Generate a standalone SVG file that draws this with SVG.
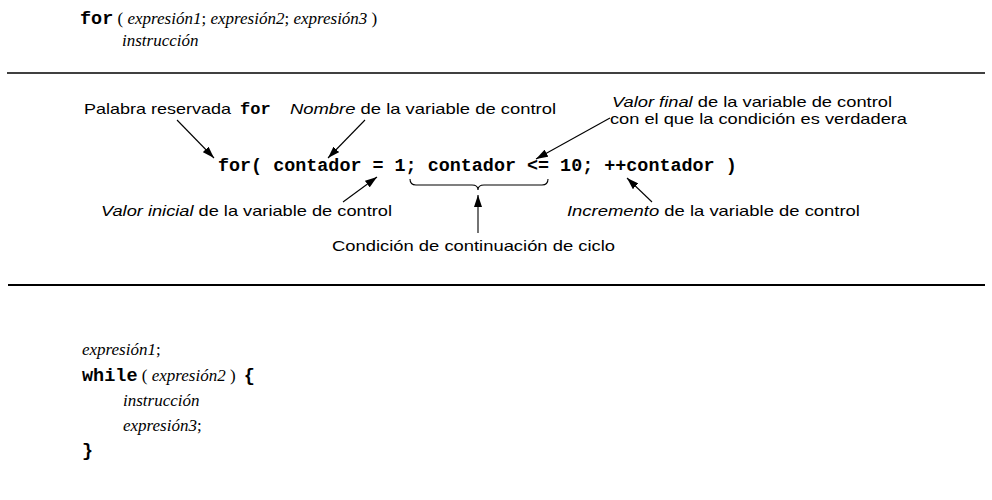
<svg xmlns="http://www.w3.org/2000/svg" width="992" height="500" viewBox="0 0 992 500">
<defs>
<style>
.mono{font-family:"Liberation Mono","Courier New",monospace;font-weight:bold;fill:#000}
.ser{font-family:"Liberation Serif","Times New Roman",serif;font-size:17px;fill:#000}
.it{font-style:italic}
.lab{font-family:"Liberation Sans",Arial,sans-serif;font-size:14.5px;fill:#000}
.conn line,.conn path{stroke:#000;stroke-width:1.1;fill:none}
.rule{stroke:#000}
</style>
<marker id="ah" viewBox="0 0 12 8" refX="12" refY="4" markerWidth="12" markerHeight="8" markerUnits="userSpaceOnUse" orient="auto">
<path d="M0,0 L12,4 L0,8 z" fill="#000"/>
</marker>
</defs>
<rect width="992" height="500" fill="#fff"/>

<g id="for-syntax">
<text x="80" y="24"><tspan class="mono" font-size="18.5px">for</tspan><tspan class="ser"> ( </tspan><tspan class="ser it">expresión1</tspan><tspan class="ser">; </tspan><tspan class="ser it">expresión2</tspan><tspan class="ser">; </tspan><tspan class="ser it">expresión3</tspan><tspan class="ser"> )</tspan></text>
<text x="122" y="46" class="ser it">instrucción</text>
</g>

<line class="rule" x1="7" y1="73" x2="985" y2="73" stroke-width="1.5"/>

<g id="code-line">
<text x="218" y="171" class="mono" font-size="18.4px" xml:space="preserve">for( contador = 1; contador &lt;= 10; ++contador )</text>
</g>

<g id="label-palabra">
<text x="84" y="114" class="lab" textLength="147" lengthAdjust="spacingAndGlyphs">Palabra reservada</text>
<text x="240" y="114" class="mono" font-size="17px">for</text>
</g>
<g id="label-nombre">
<text x="290" y="114" class="lab" textLength="266" lengthAdjust="spacingAndGlyphs"><tspan class="it">Nombre</tspan> de la variable de control</text>
</g>
<g id="label-valor-final">
<text x="612" y="107" class="lab" textLength="280" lengthAdjust="spacingAndGlyphs"><tspan class="it">Valor final</tspan> de la variable de control</text>
<text x="610" y="124" class="lab" textLength="297" lengthAdjust="spacingAndGlyphs">con el que la condición es verdadera</text>
</g>
<g id="label-valor-inicial">
<text x="101" y="216" class="lab" textLength="291" lengthAdjust="spacingAndGlyphs"><tspan class="it">Valor inicial</tspan> de la variable de control</text>
</g>
<g id="label-incremento">
<text x="567" y="216" class="lab" textLength="293" lengthAdjust="spacingAndGlyphs"><tspan class="it">Incremento</tspan> de la variable de control</text>
</g>
<g id="label-condicion">
<text x="332" y="251" class="lab" textLength="283" lengthAdjust="spacingAndGlyphs">Condición de continuación de ciclo</text>
</g>

<g id="connectors" class="conn">
<line x1="177" y1="120" x2="214" y2="158" marker-end="url(#ah)"/>
<line x1="365" y1="120" x2="328" y2="158" marker-end="url(#ah)"/>
<line x1="610" y1="118" x2="536" y2="159" marker-end="url(#ah)"/>
<line x1="343" y1="202" x2="377" y2="177" marker-end="url(#ah)"/>
<line x1="652" y1="202" x2="627" y2="178" marker-end="url(#ah)"/>
<path d="M410,179 Q410,185 416,185 L472,185 Q478,185 478,190 Q478,185 484,185 L542,185 Q548,185 548,179"/>
<line x1="478" y1="233" x2="478" y2="195" marker-end="url(#ah)"/>
</g>

<line class="rule" x1="8" y1="285" x2="985" y2="285" stroke-width="2"/>

<g id="while-equivalent">
<text x="82" y="355" class="ser it">expresión1<tspan font-style="normal">;</tspan></text>
<text x="82" y="381"><tspan class="mono" font-size="18.5px">while</tspan><tspan class="ser"> ( </tspan><tspan class="ser it">expresión2</tspan><tspan class="ser"> ) </tspan><tspan class="mono" font-size="18.5px" dx="4">{</tspan></text>
<text x="123" y="406" class="ser it">instrucción</text>
<text x="123" y="431" class="ser it">expresión3<tspan font-style="normal">;</tspan></text>
<text x="82" y="456" class="mono" font-size="18.5px">}</text>
</g>
</svg>
